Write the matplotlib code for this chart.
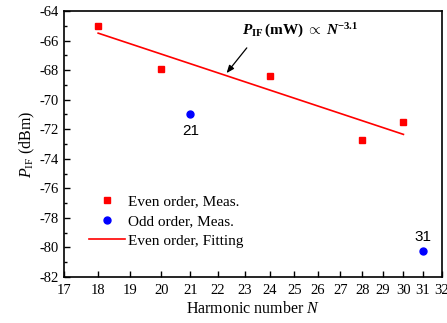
import numpy as np
import matplotlib.pyplot as plt
from matplotlib.ticker import FixedLocator, NullLocator, MultipleLocator

plt.rcParams['font.family'] = ['Liberation Serif', 'DejaVu Serif']
plt.rcParams['axes.unicode_minus'] = False
plt.rcParams['mathtext.fontset'] = 'custom'
plt.rcParams['mathtext.rm'] = 'Liberation Serif'
plt.rcParams['mathtext.it'] = 'Liberation Serif:italic'
plt.rcParams['mathtext.bf'] = 'Liberation Serif:bold'
plt.rcParams['mathtext.bfit'] = 'Liberation Serif:bold:italic'

# measured points
even_N = [18, 20, 24, 28, 30]
even_dB = [-65.0, -67.9, -68.4, -72.7, -71.5]
odd_N = [21, 31]
odd_dB = [-71.0, -80.25]

# fitted line (straight on log N axis)
fit_N = [18, 30]
fit_dB = [-65.5, -72.35]

x_ticks = list(range(17, 33))

fig = plt.figure(figsize=(4.47, 3.23), dpi=100)
ax = fig.add_axes([0.1432, 0.1424, 0.8456, 0.8236])

ax.plot(even_N, even_dB, 's', color='#ff0000', markersize=5, label='Even order, Meas.')
ax.plot(odd_N, odd_dB, 'o', color='#0000ff', markersize=5, label='Odd order, Meas.')
ax.plot(fit_N, fit_dB, '-', color='#ff0000', linewidth=1.2, label='Even order, Fitting')

ax.set_xscale('log')
ax.set_xlim(17, 32)
ax.set_ylim(-82, -64)
ax.xaxis.set_major_locator(FixedLocator(x_ticks))
ax.xaxis.set_minor_locator(NullLocator())
ax.set_xticklabels([str(t) for t in x_ticks])
ax.yaxis.set_major_locator(MultipleLocator(2))
ax.yaxis.set_minor_locator(MultipleLocator(1))

ax.tick_params(which='both', direction='in', top=False, right=False, labelsize=10.5)
ax.tick_params(which='major', length=4, width=1)
ax.tick_params(which='minor', length=2.5, width=1)
ax.tick_params(axis='x', pad=5)
for s in ax.spines.values():
    s.set_linewidth(1.2)

ax.set_xlabel(r'Harmonic number $\mathit{N}$', fontsize=11.5, labelpad=3)
ax.set_ylabel(r'$\mathit{P}_{\mathrm{IF}}$ (dBm)', fontsize=11.5, labelpad=2)

# labels for odd orders
for n, v in zip(odd_N, odd_dB):
    ax.text(n, v + (-1.1 if n == 21 else 0.95), str(n), family='Liberation Sans',
            fontsize=11, ha='center', va='center')

# fit annotation
ax.annotate('', xy=(22.25, -68.35), xytext=(23.15, -66.35),
            arrowprops=dict(arrowstyle='-|>,head_length=0.45,head_width=0.18',
                            color='black', lw=0.9))
ax.text(22.9, -65.35,
        r'$\mathbfit{P}_{\mathbf{IF}}\,\mathbf{(mW)}\ \propto\ \mathbfit{N}^{\mathbf{-3.1}}$',
        fontsize=11, ha='left', va='center')

ax.legend(loc='lower left', bbox_to_anchor=(0.039, 0.07), frameon=False, fontsize=11,
          handlelength=2.3, handletextpad=0.2, labelspacing=0.4, borderaxespad=0.3)

fig.savefig('out.png', dpi=100)
